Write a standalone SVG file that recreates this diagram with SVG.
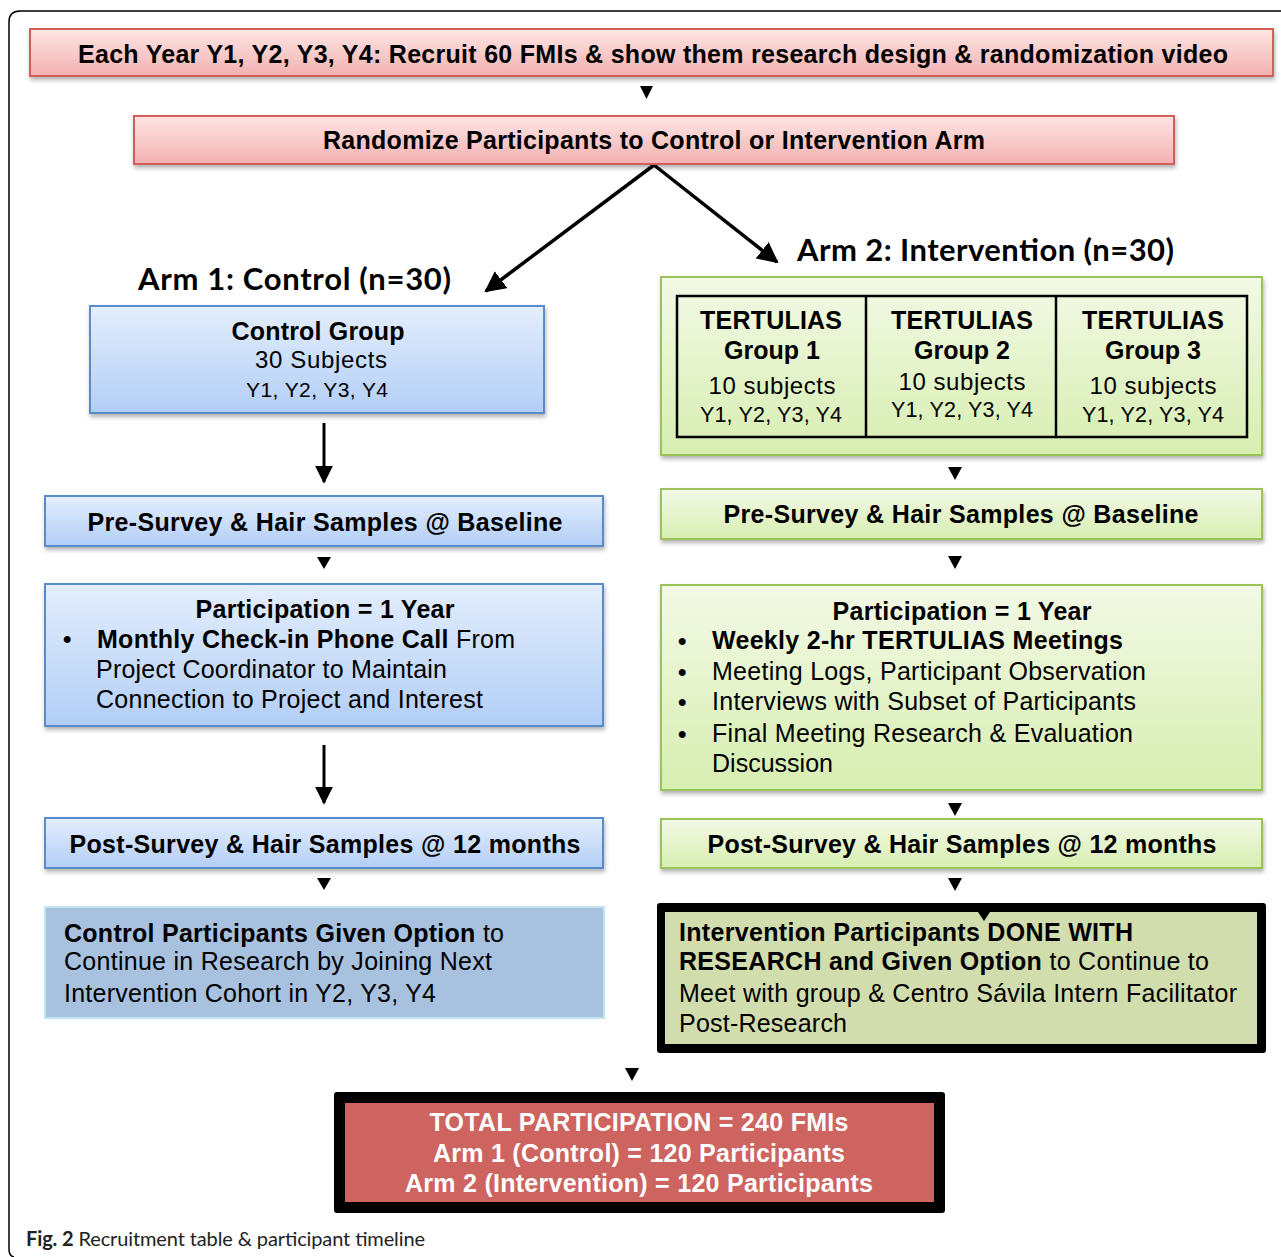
<svg xmlns="http://www.w3.org/2000/svg" width="1281" height="1257" viewBox="0 0 1281 1257">
<defs>
<linearGradient id="gPink" x1="0" y1="0" x2="0" y2="1"><stop offset="0" stop-color="#fde6e5"/><stop offset="1" stop-color="#f2b1b0"/></linearGradient>
<linearGradient id="gBlue" x1="0" y1="0" x2="0" y2="1"><stop offset="0" stop-color="#e4eefc"/><stop offset="1" stop-color="#b2cef6"/></linearGradient>
<linearGradient id="gGreen" x1="0" y1="0" x2="0" y2="1"><stop offset="0" stop-color="#f3f9e6"/><stop offset="1" stop-color="#d7eeb1"/></linearGradient>
<filter id="sh" x="-5%" y="-20%" width="110%" height="150%"><feDropShadow dx="1" dy="3" stdDeviation="2" flood-color="#000" flood-opacity="0.3"/></filter>
<marker id="ah" viewBox="0 0 10 10" refX="9" refY="5" markerWidth="6" markerHeight="6" markerUnits="strokeWidth" orient="auto"><path d="M0,0 L10,5 L0,10 Z" fill="#000"/></marker>
</defs>
<style>
.t{font-family:"Liberation Sans",Arial,sans-serif;fill:#000}
.b{font-weight:bold}
.c{text-anchor:middle}
.cal{font-family:Lato,"Open Sans",sans-serif;font-weight:bold;font-size:31px;fill:#000}
.pink{fill:url(#gPink);stroke:#d0605c;stroke-width:2}
.blue{fill:url(#gBlue);stroke:#5a8bcb;stroke-width:2}
.green{fill:url(#gGreen);stroke:#9cc35a;stroke-width:2}
.tri{fill:#000}
.ln{stroke:#000;fill:none}
</style>
<rect width="1281" height="1257" fill="#fff"/>
<path d="M1281,11 H20 Q9,11 9,22 V1249 Q9,1256 14,1257" fill="none" stroke="#000" stroke-width="1.5"/>

<g id="connectors">
<path class="tri" d="M640,86 L653,86 L646.5,99 Z"/>
<line class="ln" x1="654" y1="165" x2="486" y2="291" stroke-width="3.5" marker-end="url(#ah)"/>
<line class="ln" x1="654" y1="165" x2="777" y2="262" stroke-width="3.5" marker-end="url(#ah)"/>
<line class="ln" x1="324" y1="423" x2="324" y2="482" stroke-width="3" marker-end="url(#ah)"/>
<path class="tri" d="M317,557 L331,557 L324,569 Z"/>
<line class="ln" x1="324" y1="745" x2="324" y2="803" stroke-width="3" marker-end="url(#ah)"/>
<path class="tri" d="M317,878 L331,878 L324,890 Z"/>
<path class="tri" d="M948,467 L962,467 L955,480 Z"/>
<path class="tri" d="M948,556 L962,556 L955,569 Z"/>
<path class="tri" d="M948,803 L962,803 L955,816 Z"/>
<path class="tri" d="M948,878 L962,878 L955,891 Z"/>
<path class="tri" d="M625,1068 L639,1068 L632,1081 Z"/>
</g>

<g id="recruit">
<rect class="pink" x="30" y="29" width="1243" height="47" filter="url(#sh)"/>
<text class="t b c" x="653" y="63" font-size="25" textLength="1150">Each Year Y1, Y2, Y3, Y4: Recruit 60 FMIs &amp; show them research design &amp; randomization video</text>
</g>

<g id="randomize">
<rect class="pink" x="134" y="116" width="1040" height="48" filter="url(#sh)"/>
<text class="t b c" x="654" y="149" font-size="25" textLength="662">Randomize Participants to Control or Intervention Arm</text>
</g>

<g id="arm1-label">
<text class="cal" x="138" y="290" textLength="313">Arm 1: Control  (n=30)</text>
</g>
<g id="arm2-label">
<text class="cal" x="797" y="261" textLength="377">Arm 2: Intervention (n=30)</text>
</g>

<g id="control-group">
<rect class="blue" x="90" y="306" width="454" height="107" filter="url(#sh)"/>
<text class="t b c" x="318" y="340" font-size="25" textLength="173">Control Group</text>
<text class="t c" x="321" y="368" font-size="24" textLength="132">30 Subjects</text>
<text class="t c" x="317" y="397" font-size="21" textLength="142">Y1, Y2, Y3, Y4</text>
</g>

<g id="control-presurvey">
<rect class="blue" x="45" y="496" width="558" height="50" filter="url(#sh)"/>
<text class="t b c" x="325" y="531" font-size="25" textLength="475">Pre-Survey &amp; Hair Samples @ Baseline</text>
</g>

<g id="control-participation">
<rect class="blue" x="45" y="584" width="558" height="142" filter="url(#sh)"/>
<text class="t b c" x="325" y="618" font-size="25" textLength="259">Participation = 1 Year</text>
<text class="t b" x="63" y="647" font-size="24">•</text>
<text class="t" x="97" y="648" font-size="25" textLength="418"><tspan class="b">Monthly Check-in Phone Call</tspan> From</text>
<text class="t" x="96" y="678" font-size="25" textLength="351">Project Coordinator to Maintain</text>
<text class="t" x="96" y="708" font-size="25" textLength="387">Connection to Project and Interest</text>
</g>

<g id="control-postsurvey">
<rect class="blue" x="45" y="818" width="558" height="50" filter="url(#sh)"/>
<text class="t b c" x="325" y="853" font-size="25" textLength="511">Post-Survey &amp; Hair Samples @ 12 months</text>
</g>

<g id="control-option">
<rect x="45" y="907" width="559" height="111" fill="#a7c1de" stroke="#c0e4f2" stroke-width="2"/>
<text class="t" x="64" y="942" font-size="25" textLength="440"><tspan class="b">Control Participants Given Option</tspan> to</text>
<text class="t" x="64" y="970" font-size="25" textLength="428">Continue in Research by Joining Next</text>
<text class="t" x="64" y="1002" font-size="25" textLength="372">Intervention Cohort in Y2, Y3, Y4</text>
</g>

<g id="tertulias">
<rect class="green" x="661" y="277" width="601" height="178" filter="url(#sh)"/>
<rect x="677" y="296" width="570" height="141" fill="none" stroke="#000" stroke-width="2.5"/>
<line x1="866" y1="296" x2="866" y2="437" stroke="#000" stroke-width="2.5"/>
<line x1="1056" y1="296" x2="1056" y2="437" stroke="#000" stroke-width="2.5"/>
<g id="tertulias-1">
<text class="t b c" x="771" y="329" font-size="25" textLength="142">TERTULIAS</text>
<text class="t b c" x="772" y="359" font-size="25">Group 1</text>
<text class="t c" x="772" y="394" font-size="24" textLength="127">10 subjects</text>
<text class="t c" x="771" y="422" font-size="21.5" textLength="142">Y1, Y2, Y3, Y4</text>
</g>
<g id="tertulias-2">
<text class="t b c" x="962" y="329" font-size="25" textLength="142">TERTULIAS</text>
<text class="t b c" x="962" y="359" font-size="25">Group 2</text>
<text class="t c" x="962" y="390" font-size="24" textLength="127">10 subjects</text>
<text class="t c" x="962" y="417" font-size="21.5" textLength="142">Y1, Y2, Y3, Y4</text>
</g>
<g id="tertulias-3">
<text class="t b c" x="1153" y="329" font-size="25" textLength="142">TERTULIAS</text>
<text class="t b c" x="1153" y="359" font-size="25">Group 3</text>
<text class="t c" x="1153" y="394" font-size="24" textLength="127">10 subjects</text>
<text class="t c" x="1153" y="422" font-size="21.5" textLength="142">Y1, Y2, Y3, Y4</text>
</g>
</g>

<g id="intervention-presurvey">
<rect class="green" x="661" y="489" width="601" height="50" filter="url(#sh)"/>
<text class="t b c" x="961" y="523" font-size="25" textLength="475">Pre-Survey &amp; Hair Samples @ Baseline</text>
</g>

<g id="intervention-participation">
<rect class="green" x="661" y="585" width="601" height="205" filter="url(#sh)"/>
<text class="t b c" x="962" y="620" font-size="25" textLength="259">Participation = 1 Year</text>
<text class="t b" x="678" y="649" font-size="24">•</text>
<text class="t b" x="712" y="649" font-size="25" textLength="411">Weekly 2-hr TERTULIAS Meetings</text>
<text class="t b" x="678" y="680" font-size="24">•</text>
<text class="t" x="712" y="680" font-size="25" textLength="434">Meeting Logs, Participant Observation</text>
<text class="t b" x="678" y="710" font-size="24">•</text>
<text class="t" x="712" y="710" font-size="25" textLength="424">Interviews with Subset of Participants</text>
<text class="t b" x="678" y="742" font-size="24">•</text>
<text class="t" x="712" y="742" font-size="25" textLength="421">Final Meeting Research &amp; Evaluation</text>
<text class="t" x="712" y="772" font-size="25" textLength="121">Discussion</text>
</g>

<g id="intervention-postsurvey">
<rect class="green" x="661" y="819" width="601" height="49" filter="url(#sh)"/>
<text class="t b c" x="962" y="853" font-size="25" textLength="509">Post-Survey &amp; Hair Samples @ 12 months</text>
</g>

<g id="intervention-option">
<rect x="657" y="903" width="609" height="150" rx="3" fill="#000"/>
<rect x="665" y="912" width="592" height="132" fill="#d2ddae"/>
<path class="tri" d="M978,912 L990,912 L984,921 Z"/>
<text class="t b" x="679" y="941" font-size="25" textLength="454">Intervention Participants DONE WITH</text>
<text class="t" x="679" y="970" font-size="25" textLength="530"><tspan class="b">RESEARCH and Given Option</tspan> to Continue to</text>
<text class="t" x="679" y="1002" font-size="25" textLength="558">Meet with group &amp; Centro Sávila Intern Facilitator</text>
<text class="t" x="679" y="1032" font-size="25" textLength="168">Post-Research</text>
</g>

<g id="total">
<rect x="334" y="1092" width="611" height="121" rx="3" fill="#000"/>
<rect x="345" y="1103" width="589" height="99" fill="#cd6460"/>
<text class="t b c" x="639" y="1131" font-size="25" fill="#fff" style="fill:#fff" textLength="419">TOTAL PARTICIPATION = 240 FMIs</text>
<text class="t b c" x="639" y="1162" font-size="25" style="fill:#fff" textLength="412">Arm 1 (Control) = 120 Participants</text>
<text class="t b c" x="639" y="1192" font-size="25" style="fill:#fff" textLength="468">Arm 2 (Intervention) = 120 Participants</text>
</g>

<g id="caption">
<text x="26" y="1246" font-family="Lato,'Open Sans',sans-serif" font-size="20" fill="#222" textLength="399"><tspan font-weight="bold">Fig. 2</tspan> Recruitment table &amp; participant timeline</text>
</g>
</svg>
